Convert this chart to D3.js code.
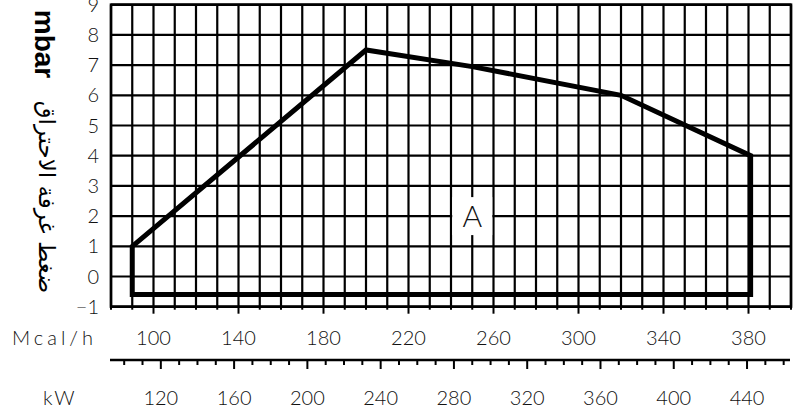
<!DOCTYPE html>
<html>
<head>
<meta charset="utf-8">
<script src="https://cdn.jsdelivr.net/npm/d3@7"></script>
<style>
  body { margin: 0; background: #fff; }
  svg { display: block; }
  .num { font-family: "Lato", "Roboto", sans-serif; font-weight: 300; font-size: 20px; fill: #111; }
</style>
</head>
<body>
<svg id="chart" width="809" height="412"></svg>
<script>
// values
var mbarTicks = [-1, 0, 1, 2, 3, 4, 5, 6, 7, 8, 9];
var mcalTicks = [100, 140, 180, 220, 260, 300, 340, 380];
var kwTicks = [120, 160, 200, 240, 280, 320, 360, 400, 440];
var curveMcal = [90, 90, 200, 250, 320, 381, 381];
var curveMbar = [-0.6, 1, 7.5, 6.95, 6, 4, -0.6];
var kwPerMcal = 1.16;

var svg = d3.select("#chart");

var x = d3.scaleLinear().domain([80, 400]).range([111, 791]);
var y = d3.scaleLinear().domain([-1, 9]).range([306.7, 4.7]);

// grid, one column per 10 Mcal/h
var gridX = d3.range(80, 401, 10);
var grid = svg.append("g").attr("stroke", "#000").attr("stroke-width", 2.2);
grid.selectAll("line.v").data(gridX).enter().append("line")
    .attr("x1", function(d){ return x(d); }).attr("x2", function(d){ return x(d); })
    .attr("y1", y(9)).attr("y2", y(-1));
grid.selectAll("line.h").data(mbarTicks).enter().append("line")
    .attr("x1", x(80)).attr("x2", x(400))
    .attr("y1", function(d){ return y(d); }).attr("y2", function(d){ return y(d); });
svg.append("rect")
    .attr("x", x(80)).attr("y", y(9))
    .attr("width", x(400) - x(80)).attr("height", y(-1) - y(9))
    .attr("fill", "none").attr("stroke", "#000").attr("stroke-width", 2.6);

// Mcal/h ticks below the frame
svg.append("g").attr("stroke", "#000").attr("stroke-width", 2)
    .selectAll("line").data(gridX).enter().append("line")
    .attr("x1", function(d){ return x(d); }).attr("x2", function(d){ return x(d); })
    .attr("y1", y(-1))
    .attr("y2", function(d){ return y(-1) + (mcalTicks.indexOf(d) >= 0 ? 7 : 3); });

// working range
var pts = curveMcal.map(function(d, i){ return [x(d), y(curveMbar[i])]; });
svg.append("path")
    .attr("d", d3.line()(pts) + "Z")
    .attr("fill", "none").attr("stroke", "#000").attr("stroke-width", 5)
    .attr("stroke-linejoin", "miter");

// label A
svg.append("rect")
    .attr("x", x(250) - 20).attr("y", y(2) - 19)
    .attr("width", 40).attr("height", 38).attr("fill", "#fff");
svg.append("text").attr("class", "num")
    .attr("x", x(250)).attr("y", y(2) + 11)
    .attr("text-anchor", "middle").style("font-size", "30px")
    .text("A");

// y labels
svg.append("g").selectAll("text").data(mbarTicks).enter().append("text")
    .attr("class", "num")
    .attr("x", 99).attr("y", function(d){ return y(d) + 7; })
    .attr("text-anchor", "end")
    .text(function(d){ return d < 0 ? "\u2212" + (-d) : d; });

// Mcal/h labels
svg.append("g").selectAll("text").data(mcalTicks).enter().append("text")
    .attr("class", "num")
    .attr("x", function(d){ return x(d); }).attr("y", 345)
    .attr("text-anchor", "middle")
    .text(function(d){ return d; });
svg.append("text").attr("class", "num")
    .attr("x", 12).attr("y", 345).style("letter-spacing", "4px")
    .text("Mcal/h");

// kW axis
var kx = function(kw){ return x(kw / kwPerMcal); };
var kwAll = d3.range(100, 461, 10);
svg.append("line")
    .attr("x1", 110).attr("x2", 790).attr("y1", 360).attr("y2", 360)
    .attr("stroke", "#000").attr("stroke-width", 2.6);
svg.append("g").attr("stroke", "#000").attr("stroke-width", 2)
    .selectAll("line").data(kwAll).enter().append("line")
    .attr("x1", kx).attr("x2", kx)
    .attr("y1", 360)
    .attr("y2", function(d){ return kwTicks.indexOf(d) >= 0 ? 369 : 365; });
svg.append("g").selectAll("text").data(kwTicks).enter().append("text")
    .attr("class", "num")
    .attr("x", kx).attr("y", 405)
    .attr("text-anchor", "middle")
    .text(function(d){ return d; });
svg.append("text").attr("class", "num")
    .attr("x", 43).attr("y", 405).style("letter-spacing", "2px")
    .text("kW");

// axis titles, rotated
svg.append("text")
    .attr("transform", "translate(35,44) rotate(90)")
    .attr("text-anchor", "middle")
    .style("font-family", "'Liberation Sans', Arial, sans-serif")
    .style("font-weight", "bold").style("font-size", "28px")
    .text("mbar");
svg.append("text")
    .attr("transform", "translate(39,197) rotate(90)")
    .attr("text-anchor", "middle")
    .style("font-family", "'DejaVu Sans', sans-serif")
    .style("font-size", "23px")
    .attr("direction", "rtl")
    .text("ضغط غرفة الاحتراق");
</script>
</body>
</html>
